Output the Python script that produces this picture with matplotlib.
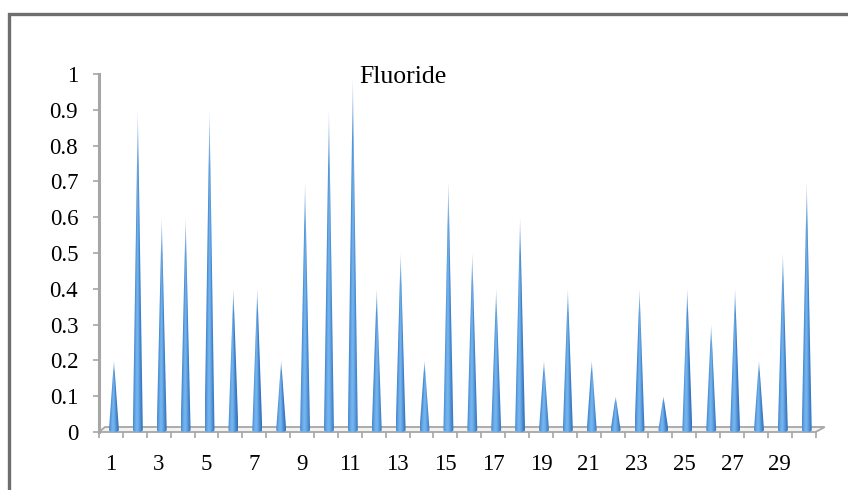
import numpy as np
import matplotlib
matplotlib.use('Agg')
import matplotlib.pyplot as plt
from matplotlib.patches import Polygon, Rectangle

# ---------------- data ----------------
categories = list(range(1, 31))
values = [0.2, 0.9, 0.6, 0.6, 0.9, 0.4, 0.4, 0.2, 0.7, 0.9,
          0.99, 0.4, 0.5, 0.2, 0.7, 0.5, 0.4, 0.6, 0.2, 0.4,
          0.2, 0.1, 0.4, 0.1, 0.4, 0.3, 0.4, 0.2, 0.5, 0.7]
xtick_labels = [str(c) for c in categories if c % 2 == 1]
ytick_values = [round(0.1 * k, 1) for k in range(11)]
ytick_labels = ['0', '0.1', '0.2', '0.3', '0.4', '0.5', '0.6', '0.7', '0.8', '0.9', '1']
title = "Fluoride"

# ---------------- layout ----------------
W, H = 848, 490
fig = plt.figure(figsize=(W / 100, H / 100), dpi=100)
fig.patch.set_facecolor('white')
ax_left, ax_right, ax_top, ax_bottom = 99, 815.7, 74, 432
ax = fig.add_axes([ax_left / W, 1 - ax_bottom / H,
                   (ax_right - ax_left) / W, (ax_bottom - ax_top) / H])
ax.set_xlim(0.5, 30.5)
ax.set_ylim(0, 1)
ax.set_facecolor('none')

px_x = (ax_right - ax_left) / 30.0   # pixels per category
px_y = (ax_bottom - ax_top) / 1.0    # pixels per unit

font = 'Liberation Serif'
gray = '#a6a6a6'
fs = 16.5

# spines
for s in ['top', 'right', 'bottom']:
    ax.spines[s].set_visible(False)
ax.spines['left'].set_color(gray)
ax.spines['left'].set_linewidth(2.2)

# y ticks
ax.set_yticks(ytick_values)
ax.set_yticklabels(ytick_labels, fontfamily=font, fontsize=fs)
ax.tick_params(axis='y', direction='out', length=4.5, width=1.2, color=gray,
               pad=10.5, labelcolor='black')

# x ticks: boundaries as minor ticks, labels at odd category centers
ax.set_xticks([c for c in categories if c % 2 == 1])
ax.set_xticklabels(xtick_labels, fontfamily=font, fontsize=fs)
ax.tick_params(axis='x', which='major', length=0, pad=15.5, labelcolor='black')
ax.set_xticks(np.arange(0.5, 30.6, 1.0), minor=True)
ax.tick_params(axis='x', which='minor', direction='out', length=4.5, width=1.2,
               color=gray)

# floor (thin 3D base)
dxl, dxr, dyb = 6 / px_x, 9 / px_x, 5 / px_y
floor = Polygon([(0.5, 0), (30.5, 0), (30.5 + dxr, dyb), (0.5 + dxl, dyb)],
                closed=True, facecolor='#f2f2f2', edgecolor=gray, lw=1.3,
                clip_on=False, zorder=1)
ax.add_patch(floor)

# cones
dark = np.array([0.17, 0.41, 0.71])
light = np.array([0.45, 0.71, 0.94])
hw = 5.0 / px_x
xoff = 3.0 / px_x
y0 = 2.0 / px_y
arc = 2.0 / px_y
for c, v in zip(categories, values):
    xc = c + xoff
    ny, nx = 240, 40
    ybot = y0 - arc
    ys = np.linspace(ybot, v, ny)
    xs = np.linspace(xc - hw, xc + hw, nx)
    X, Y = np.meshgrid(xs, ys)
    w = hw * np.clip((v - Y) / (v - y0), 1e-3, None)
    u = np.clip((X - xc) / w, -1, 1)
    b = np.exp(-((u + 0.2) / 0.85) ** 2)
    rgb = dark[None, None, :] + (light - dark)[None, None, :] * b[..., None]
    t = np.clip((Y - y0) / (v - y0), 0, 1)
    fade = np.clip((t - 0.82) / 0.18, 0, 1) * 0.7
    rgb = rgb * (1 - fade[..., None]) + fade[..., None]
    img = np.clip(rgb, 0, 1)
    im = ax.imshow(img, extent=[xc - hw, xc + hw, ybot, v], origin='lower',
                   aspect='auto', interpolation='bilinear', zorder=3)
    th = np.linspace(np.pi, 2 * np.pi, 20)
    base = [(xc + hw * np.cos(a), y0 + arc * np.sin(a)) for a in th]
    poly = Polygon(base + [(xc, v)], closed=True, transform=ax.transData)
    im.set_clip_path(poly)

ax.set_xlim(0.5, 30.5)
ax.set_ylim(0, 1)

# title (drawn over the plot area as in the original)
fig.text(403 / W, 1 - 83 / H, title, ha='center', va='baseline',
         fontfamily=font, fontsize=18.5, color='black')

# outer chart frame (partially cropped)
frame = Rectangle((8.5 / W, -0.2), 1.5, 1.2 - 14.3 / H, transform=fig.transFigure,
                  fill=False, ec='#6e6e6e', lw=2.4)
fig.patches.append(frame)

fig.savefig('out.png', dpi=100)
